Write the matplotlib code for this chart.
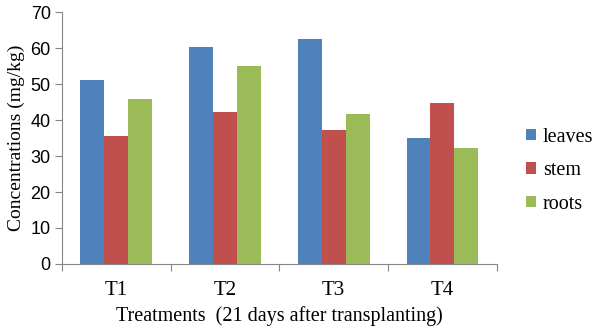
import numpy as np
from matplotlib import pyplot as plt
from matplotlib.font_manager import FontProperties

treatments = ["T1", "T2", "T3", "T4"]
leaves = [51.0, 60.4, 62.6, 35.0]
stem = [35.6, 42.2, 37.2, 44.8]
roots = [45.8, 55.0, 41.8, 32.1]

series = [("leaves", leaves, "#4F81BD"), ("stem", stem, "#C0504D"), ("roots", roots, "#9BBB59")]

serif = "Liberation Serif"

fig = plt.figure(figsize=(6, 3.35), dpi=100)
ax = fig.add_axes([0.103, 0.212, 0.725, 0.752])

x = np.arange(len(treatments))
w = 0.22
for i, (name, vals, col) in enumerate(series):
    ax.bar(x + (i - 1) * w, vals, width=w, color=col, label=name)

ax.set_xlim(-0.5, 3.5)
ax.set_ylim(0, 70)
ax.set_yticks(range(0, 71, 10))
ax.set_xticks(np.arange(-0.5, 4, 1))
ax.set_xticklabels([])
ax.set_xticks(x, minor=True)
ax.set_xticklabels(treatments, minor=True, fontfamily=serif, fontsize=15)
ax.tick_params(axis="x", which="minor", length=0, pad=12)
ax.tick_params(axis="x", which="major", length=5, color="#868686")
ax.tick_params(axis="y", length=5, color="#868686", labelsize=13, pad=3)
for lbl in ax.get_yticklabels():
    lbl.set_fontfamily("Liberation Sans")

for s in ["top", "right"]:
    ax.spines[s].set_visible(False)
for s in ["left", "bottom"]:
    ax.spines[s].set_color("#868686")

ax.set_xlabel("Treatments  (21 days after transplanting)", fontfamily=serif, fontsize=14.5, labelpad=5)
ax.set_ylabel("Concentrations (mg/kg)", fontfamily=serif, fontsize=14, labelpad=4)

leg = ax.legend(loc="center left", bbox_to_anchor=(1.025, 0.37), frameon=False,
                prop=FontProperties(family=serif, size=14.5), handlelength=0.5, handleheight=0.5,
                handletextpad=0.35, labelspacing=0.72)

fig.savefig("out.png", dpi=100)
